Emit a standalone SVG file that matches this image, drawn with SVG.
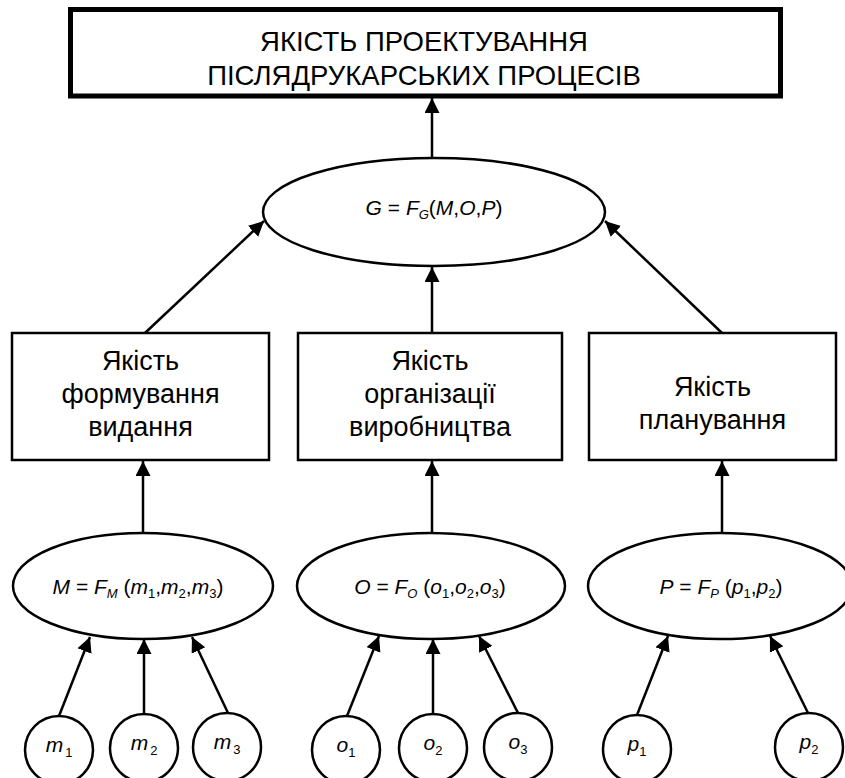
<svg xmlns="http://www.w3.org/2000/svg" width="845" height="778" viewBox="0 0 845 778">
<defs>
<marker id="ah" markerUnits="userSpaceOnUse" markerWidth="16" markerHeight="16" refX="15" refY="7.5" orient="auto" viewBox="0 0 16 16">
<path d="M0,0 L15,7.5 L0,15 z" fill="#000"/>
</marker>
</defs>
<style>
.box{fill:#fff;stroke:#000;stroke-width:2.5}
.ell{fill:#fff;stroke:#000;stroke-width:2.5}
.t{font-family:"Liberation Sans",Arial,sans-serif;font-size:27px;fill:#000;text-anchor:middle}
.h{font-family:"Liberation Sans",Arial,sans-serif;font-size:27.5px;fill:#000;text-anchor:middle}
.f{font-family:"Liberation Sans",Arial,sans-serif;font-size:21px;fill:#000;text-anchor:middle}
.i{font-style:italic}
.s{font-size:13px}
.c{font-family:"Liberation Sans",Arial,sans-serif;font-size:21px;fill:#000;text-anchor:middle;font-style:italic}
.conn line{stroke:#000;stroke-width:2.5;marker-end:url(#ah)}
</style>
<g id="top">
<rect x="70.5" y="9.5" width="710" height="86.5" fill="#fff" stroke="#000" stroke-width="5"/>
<text class="h" x="424" y="51">ЯКІСТЬ ПРОЕКТУВАННЯ</text>
<text class="h" x="424" y="85">ПІСЛЯДРУКАРСЬКИХ ПРОЦЕСІВ</text>
</g>
<g id="G">
<ellipse class="ell" cx="434" cy="212" rx="171" ry="54"/>
<text class="f" x="434" y="215"><tspan class="i">G</tspan> = <tspan class="i">F</tspan><tspan class="i s" dy="4">G</tspan><tspan dy="-4">(</tspan><tspan class="i">M</tspan>,<tspan class="i">O</tspan>,<tspan class="i">P</tspan>)</text>
</g>
<g id="boxM">
<rect class="box" x="12" y="333" width="257" height="127"/>
<text class="t" x="140.5" y="370">Якість</text>
<text class="t" x="140.5" y="403">формування</text>
<text class="t" x="140.5" y="436">видання</text>
</g>
<g id="boxO">
<rect class="box" x="298" y="333" width="264" height="127"/>
<text class="t" x="430" y="370">Якість</text>
<text class="t" x="430" y="403">організації</text>
<text class="t" x="430" y="436">виробництва</text>
</g>
<g id="boxP">
<rect class="box" x="589" y="333" width="247" height="127"/>
<text class="t" x="712.5" y="396">Якість</text>
<text class="t" x="712.5" y="429">планування</text>
</g>
<g id="M">
<ellipse class="ell" cx="143" cy="586" rx="130" ry="53"/>
<text class="f" x="138" y="594"><tspan class="i">M</tspan> = <tspan class="i">F</tspan><tspan class="i s" dy="4">M</tspan><tspan dy="-4"> (</tspan><tspan class="i">m</tspan><tspan class="s" dy="4">1</tspan><tspan dy="-4">,</tspan><tspan class="i">m</tspan><tspan class="s" dy="4">2</tspan><tspan dy="-4">,</tspan><tspan class="i">m</tspan><tspan class="s" dy="4">3</tspan><tspan dy="-4">)</tspan></text>
</g>
<g id="O">
<ellipse class="ell" cx="431" cy="586" rx="134" ry="53"/>
<text class="f" x="430" y="594"><tspan class="i">O</tspan> = <tspan class="i">F</tspan><tspan class="i s" dy="4">O</tspan><tspan dy="-4"> (</tspan><tspan class="i">o</tspan><tspan class="s" dy="4">1</tspan><tspan dy="-4">,</tspan><tspan class="i">o</tspan><tspan class="s" dy="4">2</tspan><tspan dy="-4">,</tspan><tspan class="i">o</tspan><tspan class="s" dy="4">3</tspan><tspan dy="-4">)</tspan></text>
</g>
<g id="P">
<ellipse class="ell" cx="720" cy="586" rx="132" ry="53"/>
<text class="f" x="721" y="594"><tspan class="i">P</tspan> = <tspan class="i">F</tspan><tspan class="i s" dy="4">P</tspan><tspan dy="-4"> (</tspan><tspan class="i">p</tspan><tspan class="s" dy="4">1</tspan><tspan dy="-4">,</tspan><tspan class="i">p</tspan><tspan class="s" dy="4">2</tspan><tspan dy="-4">)</tspan></text>
</g>
<g id="m1"><circle class="ell" cx="59" cy="750" r="34"/><text class="c" x="59" y="752">m<tspan class="s" font-style="normal" dx="2" dy="5">1</tspan></text></g>
<g id="m2"><circle class="ell" cx="144" cy="748" r="34"/><text class="c" x="144" y="750">m<tspan class="s" font-style="normal" dx="2" dy="5">2</tspan></text></g>
<g id="m3"><circle class="ell" cx="227" cy="747" r="34"/><text class="c" x="227" y="749">m<tspan class="s" font-style="normal" dx="2" dy="5">3</tspan></text></g>
<g id="o1"><circle class="ell" cx="346" cy="750" r="34"/><text class="c" x="346" y="752">o<tspan class="s" font-style="normal" dy="5">1</tspan></text></g>
<g id="o2"><circle class="ell" cx="433" cy="748" r="34"/><text class="c" x="433" y="750">o<tspan class="s" font-style="normal" dy="5">2</tspan></text></g>
<g id="o3"><circle class="ell" cx="518" cy="747" r="34"/><text class="c" x="518" y="749">o<tspan class="s" font-style="normal" dy="5">3</tspan></text></g>
<g id="p1"><circle class="ell" cx="637" cy="749" r="34"/><text class="c" x="637" y="751">p<tspan class="s" font-style="normal" dy="5">1</tspan></text></g>
<g id="p2"><circle class="ell" cx="809" cy="747" r="34"/><text class="c" x="809" y="749">p<tspan class="s" font-style="normal" dy="5">2</tspan></text></g>
<g id="connectors" class="conn">
<line x1="432" y1="158" x2="432" y2="98"/>
<line x1="145" y1="333" x2="264" y2="221"/>
<line x1="432" y1="333" x2="432" y2="267"/>
<line x1="722" y1="333" x2="605" y2="221"/>
<line x1="143" y1="532" x2="143" y2="461"/>
<line x1="432" y1="532" x2="432" y2="461"/>
<line x1="722" y1="532" x2="722" y2="461"/>
<line x1="59" y1="716" x2="90" y2="637"/>
<line x1="144" y1="714" x2="144" y2="639"/>
<line x1="228" y1="713" x2="192" y2="637"/>
<line x1="347" y1="716" x2="379" y2="636"/>
<line x1="433" y1="714" x2="433" y2="639"/>
<line x1="518" y1="713" x2="479" y2="636"/>
<line x1="637" y1="715" x2="668" y2="636"/>
<line x1="808" y1="713" x2="770" y2="636"/>
</g>
</svg>
